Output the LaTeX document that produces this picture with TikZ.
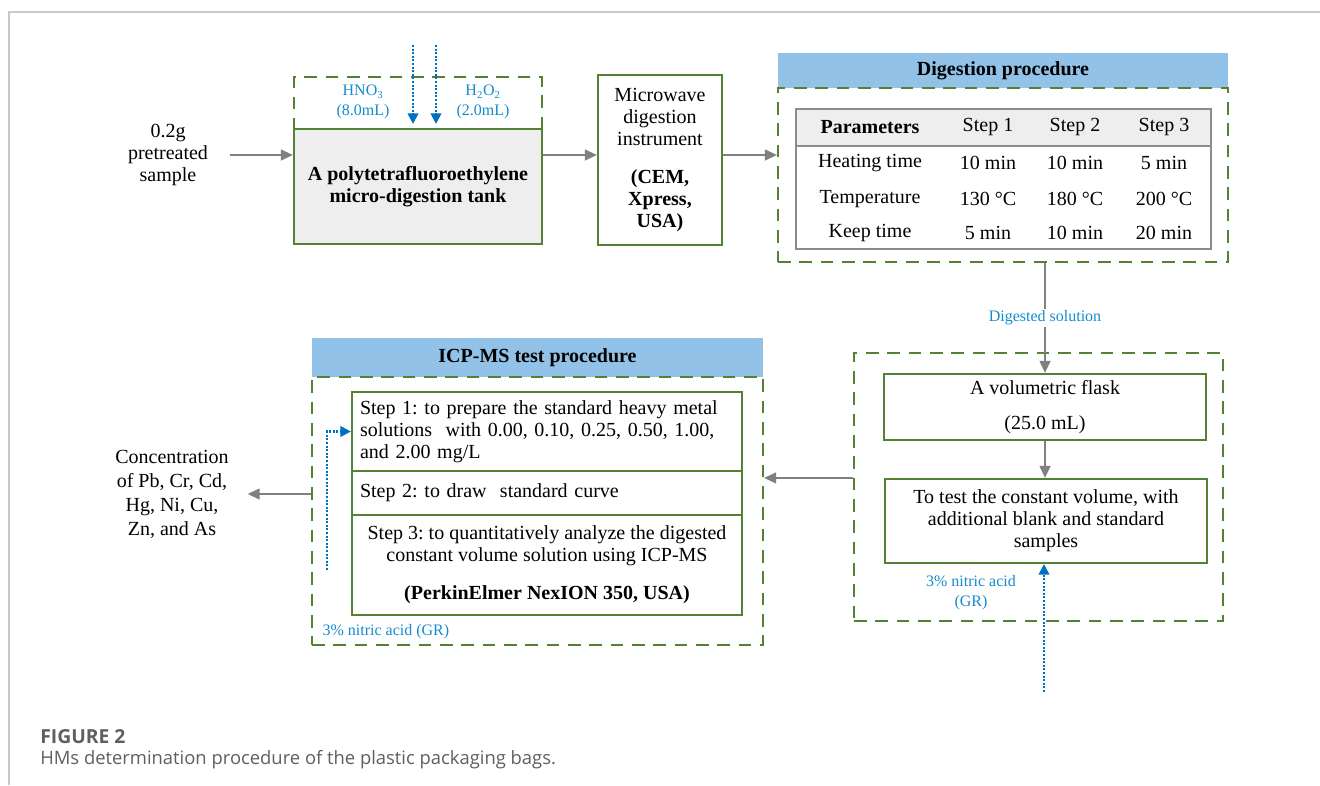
\documentclass[tikz,border=0pt]{standalone}
\usepackage{fontspec}
\setmainfont{Liberation Serif}
\newfontfamily\capfont{Open Sans}
\usepackage{tikz}
\usetikzlibrary{calc, positioning, arrows.meta, backgrounds}
\frenchspacing

\definecolor{boxgreen}{RGB}{84,130,53}
\definecolor{headblue}{RGB}{146,194,232}
\definecolor{acidblue}{RGB}{0,112,192}
\definecolor{labelblue}{RGB}{20,140,205}
\definecolor{flowgray}{RGB}{128,128,128}
\definecolor{tankgray}{RGB}{238,238,238}
\definecolor{tabgray}{RGB}{140,140,140}
\definecolor{framegray}{RGB}{200,200,200}
\definecolor{capgray}{RGB}{95,95,95}

\newcommand{\mainsize}{\fontsize{15}{16.5}\selectfont}
\newcommand{\labelsize}{\fontsize{12}{14.5}\selectfont}

\tikzset{
  solidbox/.style={draw=boxgreen, line width=1.6pt, inner sep=0pt, align=center, font=\mainsize},
  zone/.style={draw=boxgreen, line width=1.6pt, dash pattern=on 9.5pt off 6.5pt, inner sep=0pt},
  headbar/.style={fill=headblue, inner sep=0pt, font=\mainsize\bfseries},
  flow/.style={draw=flowgray, line width=1.6pt, -{Triangle[length=9pt,width=8pt]}},
  acid/.style={draw=acidblue, line width=1.6pt, dash pattern=on 1.5pt off 1.2pt, -{Triangle[length=8pt,width=8pt]}},
  acidlabel/.style={text=labelblue, font=\labelsize, align=center, inner sep=1pt},
  plain/.style={font=\mainsize, align=center, inner sep=0pt},
}

\begin{document}
\begin{tikzpicture}[x=0.75pt, y=-0.75pt]
  \useasboundingbox (0,0) rectangle (1320,785);
  \draw[framegray, line width=0.9pt] (9,785) -- (9,12) -- (1320,12);

  % Sample and digestion tank
  \node[plain] (sample) at (168,155) {0.2g\\pretreated\\sample};
  \node[zone, minimum width=186pt, minimum height=125.25pt] (tankzone) at (418,160.5) {};
  \node[solidbox, fill=tankgray, minimum width=186pt, minimum height=86.25pt, font=\mainsize\bfseries]
    (tank) at (418,186.5) {A polytetrafluoroethylene\\micro-digestion tank};
  \node[acidlabel] (hno) at (363,102) {HNO\textsubscript{3}\\(8.0mL)};
  \node[acidlabel] (hoo) at (483,102) {H\textsubscript{2}O\textsubscript{2}\\(2.0mL)};
  \coordinate (in1) at (413,45);
  \coordinate (in2) at (436,45);
  \draw[acid, shorten >=3pt] (in1) -- (in1 |- tank.north);
  \draw[acid, shorten >=3pt] (in2) -- (in2 |- tank.north);

  % Microwave instrument
  \node[solidbox, minimum width=93pt, minimum height=127.5pt] (micro) at (660,160)
    {Microwave\\digestion\\instrument\\[12pt]\textbf{(CEM,}\\\textbf{Xpress,}\\\textbf{USA)}};

  % Digestion procedure
  \node[headbar, minimum width=337.5pt, minimum height=26.25pt] (dighead) at (1003,70.5) {Digestion procedure};
  \node[zone, minimum width=337.5pt, minimum height=130.5pt] (digzone) at (1003,175) {};
  \node[draw=tabgray, line width=1.5pt, minimum width=311.25pt, minimum height=105pt, inner sep=0pt]
    (digtab) at (1003.5,179) {};
  \coordinate (tabrule) at (1003,146);
  \begin{scope}[on background layer]
    \fill[tankgray] (digtab.north west) rectangle (digtab.east |- tabrule);
  \end{scope}
  \draw[tabgray, line width=1.5pt] (digtab.west |- tabrule) -- (digtab.east |- tabrule);
  \foreach \row/\y/\a/\b/\c/\d in {0/127/\textbf{Parameters}/Step 1/Step 2/Step 3,
      1/163/Heating time/10 min/10 min/5 min,
      2/199/Temperature/130 °C/180 °C/200 °C,
      3/233/Keep time/5 min/10 min/20 min} {
    \node[plain] (tab-\row-0) at (870,\y) {\a};
    \node[plain] (tab-\row-1) at (988,\y) {\b};
    \node[plain] (tab-\row-2) at (1075,\y) {\c};
    \node[plain] (tab-\row-3) at (1164,\y) {\d};
  }

  % Volumetric flask
  \node[zone, minimum width=276.75pt, minimum height=201pt] (volzone) at (1038.5,487) {};
  \node[solidbox, minimum width=241.5pt, minimum height=49.5pt] (flask) at (1045,407)
    {A volumetric flask\\[9.5pt](25.0 mL)};
  \node[solidbox, minimum width=241.5pt, minimum height=63pt] (testbox) at (1046,521)
    {To test the constant volume, with\\additional blank and standard\\samples};
  \node[acidlabel, align=center, font=\fontsize{12}{15}\selectfont] (acidR) at (971,593) {3\% nitric acid\\(GR)};
  \coordinate (acidsrc) at (1044,692);

  % ICP-MS test procedure
  \node[headbar, minimum width=338.25pt, minimum height=29.25pt] (icphead) at (537.5,357.5) {ICP-MS test procedure};
  \node[zone, minimum width=338.25pt, minimum height=201pt] (icpzone) at (537.5,511) {};
  \node[solidbox, minimum width=292.5pt, minimum height=59.25pt, text width=280.5pt, align=left] (s1) at (547,431.5)
    {Step 1: to prepare the standard heavy metal\\solutions\ \ with 0.00, 0.10, 0.25, 0.50, 1.00,\\and 2.00 mg/L};
  \node[solidbox, minimum width=292.5pt, minimum height=33pt, text width=280.5pt, align=left] (s2) at (547,493)
    {Step 2: to draw\ \ standard curve};
  \node[solidbox, minimum width=292.5pt, minimum height=75pt] (s3) at (547,565)
    {Step 3: to quantitatively analyze the digested\\constant volume solution using ICP-MS\\[12pt]\textbf{(PerkinElmer NexION 350, USA)}};
  \node[acidlabel, anchor=west] (acidL) at (321,632) {3\% nitric acid (GR)};
  \coordinate (acidtop) at (327,570);
  \node[plain, font=\fontsize{15}{18}\selectfont] (conc) at (172,494) {Concentration\\of Pb, Cr, Cd,\\Hg, Ni, Cu,\\Zn, and As};

  % Flow connectors
  \draw[flow, shorten <=16pt] (sample.east) -- (sample.east -| tank.west);
  \draw[flow] (sample.east -| tank.east) -- (sample.east -| micro.west);
  \draw[flow] (sample.east -| micro.east) -- (sample.east -| digzone.west);
  \draw[flow] (flask.north |- digzone.south) -- node[acidlabel, fill=white] (digested) {Digested solution} (flask.north);
  \draw[flow] (flask.south) -- (flask.south |- testbox.north);
  \draw[flow] (volzone.west |- testbox.north) -- (icpzone.east |- testbox.north);
  \draw[flow, shorten >=14pt] (conc.east -| icpzone.west) -- (conc.east);
  \draw[acid] (acidsrc) -- (acidsrc |- testbox.south);
  \draw[acid] (acidtop) |- (s1.west);

  % Caption
  \node[anchor=west, inner sep=0pt, text=capgray, font=\capfont\bfseries\fontsize{14.5}{16}\selectfont] (figno) at (40,737) {FIGURE 2};
  \node[anchor=west, inner sep=0pt, text=capgray, font=\capfont\fontsize{13.8}{16}\selectfont] (figcap) at (40,760)
    {HMs determination procedure of the plastic packaging bags.};
\end{tikzpicture}
\end{document}
